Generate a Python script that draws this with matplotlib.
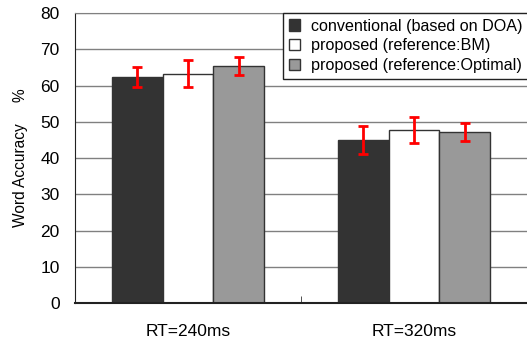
import numpy as np
import matplotlib; matplotlib.use("Agg")
import matplotlib.pyplot as plt
from matplotlib.patches import Patch

plt.rcParams['font.family'] = ['Liberation Sans', 'DejaVu Sans']

groups = ["RT=240ms", "RT=320ms"]
series = ["conventional (based on DOA)", "proposed (reference:BM)", "proposed (reference:Optimal)"]
conv = [62.3, 45.0]
prop_bm = [63.3, 47.7]
prop_opt = [65.4, 47.1]
conv_err = [2.8, 3.8]
bm_err = [3.7, 3.5]
opt_err = [2.4, 2.5]

colors = ["#333333", "#ffffff", "#999999"]
fig = plt.figure(figsize=(5.27, 3.4), dpi=100)
ax = fig.add_axes([75/527, 1-303/340, 452/527, 290/340])
x = np.arange(len(groups))
w = 0.225
for i, (vals, errs, col) in enumerate(zip([conv, prop_bm, prop_opt], [conv_err, bm_err, opt_err], colors)):
    pos = x + (i - 1) * w
    ax.bar(pos, vals, w, color=col, edgecolor="#333333", linewidth=1, zorder=2)
    ax.errorbar(pos, vals, yerr=errs, fmt="none", ecolor="red", elinewidth=2,
                capsize=3.5, capthick=2, zorder=3)

ax.set_xlim(-0.5, 1.5)
ax.set_ylim(0, 80)
ax.set_yticks(range(0, 81, 10))
ax.yaxis.grid(True, color="#808080", linewidth=1, zorder=0)
ax.set_axisbelow(True)
ax.set_xticks(x)
ax.set_xticklabels(groups)
ax.set_xticks([0.5], minor=True)
ax.tick_params(axis="x", which="major", length=0, pad=15, labelsize=12.5)
ax.tick_params(axis="x", which="minor", length=5, direction="in", color="#333333")
ax.tick_params(axis="y", length=0, pad=11, labelsize=12.5)
ax.spines["right"].set_visible(False)
ax.spines["top"].set_color("#808080")
ax.spines["left"].set_color("#222222")
ax.spines["bottom"].set_color("#222222")
ax.spines["bottom"].set_linewidth(1.5)
ax.set_ylabel("Word Accuracy     %", fontsize=11.2, labelpad=9)

handles = [Patch(facecolor=c, edgecolor="#333333", linewidth=1) for c in colors]
leg = ax.legend(handles, series, loc="upper left", bbox_to_anchor=(0.46, 0, 0.56, 1.0),
                mode="expand", borderaxespad=0, fancybox=False, framealpha=1,
                edgecolor="#222222", fontsize=11.6, handlelength=0.7, handleheight=0.7,
                handletextpad=0.7, labelspacing=0.3, borderpad=0.35)
leg.get_frame().set_linewidth(1)

fig.savefig("out.png", dpi=100)
